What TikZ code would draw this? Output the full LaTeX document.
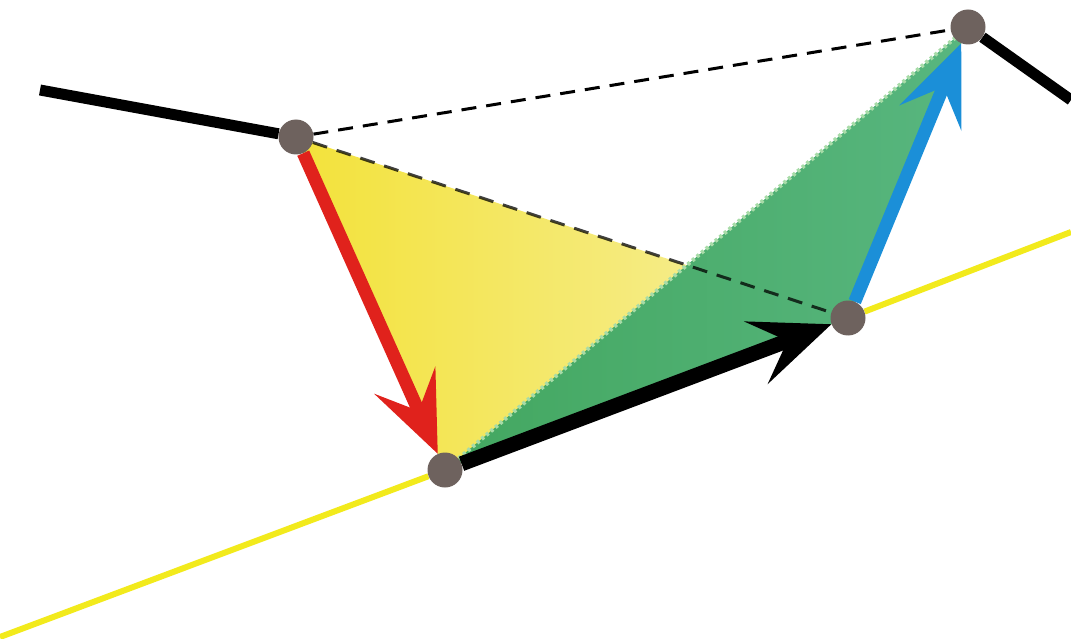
\documentclass[tikz,border=0pt]{standalone}
\usetikzlibrary{arrows.meta,backgrounds}

\definecolor{punkt}{HTML}{6E625E}
\definecolor{gelbL}{HTML}{F3E23A}
\definecolor{gelbR}{HTML}{F6F0A6}
\definecolor{gruenL}{HTML}{43A760}
\definecolor{gruenR}{HTML}{58B67F}
\definecolor{gruenRand}{HTML}{A8DCA8}
\definecolor{gerade}{HTML}{F2EA1C}
\definecolor{rot}{HTML}{E0221C}
\definecolor{blau}{HTML}{1B8FD8}

\begin{document}
\begin{tikzpicture}[x=1pt, y=-1pt,
  dot/.style={circle, fill=punkt, minimum size=35pt, inner sep=0pt},
  vec/.style={line width=13pt, -{Stealth[length=80pt, width=66pt, inset=33pt]}},
  hilf/.style={dashed, dash pattern=on 15pt off 10pt, line width=3pt}]

\useasboundingbox (0,0) rectangle (1071,639);

% Punkte
\node[dot] (A) at (296,137) {};
\node[dot] (B) at (445,470) {};
\node[dot] (C) at (848,318) {};
\node[dot] (D) at (968,27) {};

% freie Enden
\coordinate (g1) at (0,637);
\coordinate (g2) at (1071,232);
\coordinate (l) at (40,90);
\coordinate (r) at (1071,100);

\begin{scope}[on background layer]
% Dreiecke
\shade[left color=gelbL, right color=gelbR] (A.center) -- (B.center) -- (C.center) -- cycle;
\shade[left color=gruenL, right color=gruenR] (B.center) -- (C.center) -- (D.center) -- cycle;
\draw[gruenRand, line width=4pt, dash pattern=on 3pt off 3pt] (B.center) -- (D.center);

% Hilfslinien
\draw[hilf] (A) -- (D);
\draw[hilf, opacity=0.75] (A) -- (C);

% Gerade
\draw[gerade, line width=6pt] (g1) -- (B);
\draw[gerade, line width=6pt] (C) -- (g2);

% Kette
\draw[line width=11pt] (l) -- (A);
\draw[line width=11pt] (D) -- (r);

% Vektoren
\draw[vec, rot] (A) -- (B);
\draw[vec, black, line width=15pt] (B) -- (C);
\draw[vec, blau] (C) -- (D);
\end{scope}

\end{tikzpicture}
\end{document}
